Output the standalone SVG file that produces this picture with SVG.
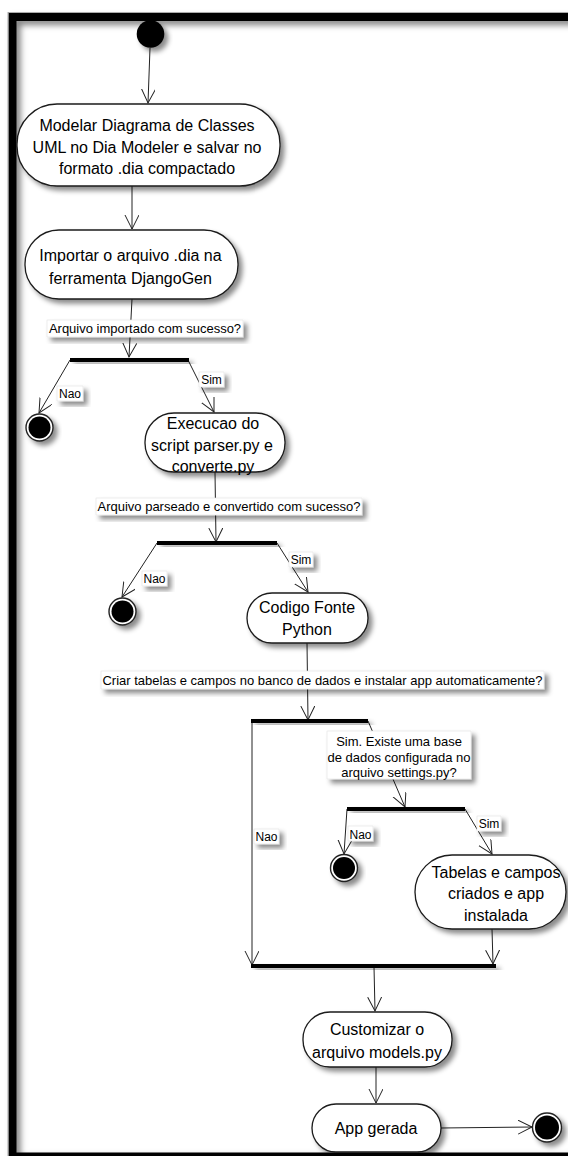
<svg xmlns="http://www.w3.org/2000/svg" width="568" height="1156" viewBox="0 0 568 1156">
  <defs>
    <filter id="sh" x="-20%" y="-20%" width="150%" height="160%">
      <feDropShadow dx="4" dy="4" stdDeviation="2.5" flood-color="#000" flood-opacity="0.45"/>
    </filter>
    <filter id="shFrame" x="-5%" y="-5%" width="110%" height="110%">
      <feDropShadow dx="4" dy="4" stdDeviation="3" flood-color="#000" flood-opacity="0.5"/>
    </filter>
    <marker id="arr" markerUnits="userSpaceOnUse" markerWidth="16" markerHeight="16" refX="14" refY="7" orient="auto">
      <path d="M0,0 L14,7 L0,14" fill="none" stroke="#222" stroke-width="1"/>
    </marker>
    <style>
      .node { fill: #fff; stroke: #1a1a1a; stroke-width: 1.3; filter: url(#sh); }
      .bar { fill: #000; filter: url(#sh); }
      .lblbox { fill: #fff; stroke: #e2e2e2; stroke-width: 0.6; filter: url(#sh); }
      .t { font-family: "Liberation Sans", Arial, sans-serif; font-size: 16px; text-anchor: middle; fill: #000; }
      .l { font-family: "Liberation Sans", Arial, sans-serif; font-size: 13px; text-anchor: middle; fill: #000; }
      .s { font-family: "Liberation Sans", Arial, sans-serif; font-size: 12px; text-anchor: middle; fill: #000; }
      .c { fill: none; stroke: #222; stroke-width: 1; marker-end: url(#arr); }
      .start { fill: #000; filter: url(#sh); }
      .endring { fill: #fff; stroke: #222; stroke-width: 1.4; filter: url(#sh); }
      .endcore { fill: #000; }
    </style>
  </defs>

  <rect width="568" height="1156" fill="#fff"/>

  <!-- swimlane frame -->
  <g id="frame">
    <rect x="12.5" y="17" width="620" height="1139.5" fill="none" stroke="#000" stroke-width="8" filter="url(#shFrame)"/>
    <rect x="8" y="12.5" width="630" height="1150" fill="none" stroke="#999" stroke-width="0.8"/>
  </g>

  <!-- connectors -->
  <g id="connectors">
    <line class="c" x1="150" y1="48" x2="148" y2="103"/>
    <line class="c" x1="132" y1="186" x2="132" y2="229"/>
    <line class="c" x1="132" y1="299" x2="129" y2="357"/>
    <line class="c" x1="70" y1="360" x2="39" y2="413"/>
    <line class="c" x1="188" y1="360" x2="214" y2="412"/>
    <line class="c" x1="215" y1="472" x2="216" y2="542"/>
    <line class="c" x1="157" y1="543" x2="122" y2="597"/>
    <line class="c" x1="277" y1="543" x2="308" y2="592"/>
    <line class="c" x1="307" y1="643" x2="308" y2="720"/>
    <line class="c" x1="252" y1="721" x2="252" y2="965"/>
    <line class="c" x1="368" y1="721" x2="405" y2="807"/>
    <line class="c" x1="347" y1="809" x2="344" y2="854"/>
    <line class="c" x1="465" y1="809" x2="492" y2="854"/>
    <line class="c" x1="492" y1="929" x2="493" y2="964"/>
    <line class="c" x1="374" y1="967" x2="375" y2="1011"/>
    <line class="c" x1="376" y1="1067" x2="376" y2="1103"/>
    <line class="c" x1="441" y1="1128" x2="532" y2="1127"/>
  </g>

  <!-- connector labels -->
  <g id="labels">
    <g id="lbl-importado">
      <rect class="lblbox" x="47" y="320" width="196" height="17"/>
      <text class="l" x="145" y="333">Arquivo importado com sucesso?</text>
    </g>
    <g id="lbl-nao1">
      <rect class="lblbox" x="57" y="386" width="26" height="15"/>
      <text class="s" x="70" y="398">Nao</text>
    </g>
    <g id="lbl-sim1">
      <rect class="lblbox" x="199" y="372" width="25" height="15"/>
      <text class="s" x="211.5" y="384">Sim</text>
    </g>
    <g id="lbl-parseado">
      <rect class="lblbox" x="96" y="498" width="266" height="17"/>
      <text class="l" x="229" y="511">Arquivo parseado e convertido com sucesso?</text>
    </g>
    <g id="lbl-nao2">
      <rect class="lblbox" x="142" y="571" width="25" height="15"/>
      <text class="s" x="154.5" y="583">Nao</text>
    </g>
    <g id="lbl-sim2">
      <rect class="lblbox" x="289" y="552" width="24" height="15"/>
      <text class="s" x="301" y="564">Sim</text>
    </g>
    <g id="lbl-criar">
      <rect class="lblbox" x="101" y="671" width="443" height="18"/>
      <text class="l" x="322.5" y="684.5">Criar tabelas e campos no banco de dados e instalar app automaticamente?</text>
    </g>
    <g id="lbl-nao3">
      <rect class="lblbox" x="254" y="829" width="25" height="15"/>
      <text class="s" x="266.5" y="841">Nao</text>
    </g>
    <g id="lbl-settings">
      <rect class="lblbox" x="327" y="731" width="144" height="48"/>
      <text class="l" x="399" y="745.5">Sim. Existe uma base</text>
      <text class="l" x="399" y="761.5">de dados configurada no</text>
      <text class="l" x="399" y="777">arquivo settings.py?</text>
    </g>
    <g id="lbl-nao4">
      <rect class="lblbox" x="348" y="826" width="25" height="15"/>
      <text class="s" x="360.5" y="838.5">Nao</text>
    </g>
    <g id="lbl-sim3">
      <rect class="lblbox" x="477" y="816" width="24" height="15"/>
      <text class="s" x="489" y="828">Sim</text>
    </g>
  </g>

  <!-- initial state -->
  <g id="start">
    <circle class="start" cx="150.5" cy="34" r="13.8"/>
  </g>

  <!-- activities -->
  <g id="modelar">
    <rect class="node" x="17" y="104" width="263" height="82" rx="40" ry="40"/>
    <text class="t" x="147" y="131">Modelar Diagrama de Classes</text>
    <text class="t" x="147" y="152.5">UML no Dia Modeler e salvar no</text>
    <text class="t" x="147" y="174">formato .dia compactado</text>
  </g>

  <g id="importar">
    <rect class="node" x="25" y="230" width="213" height="69" rx="34" ry="34"/>
    <text class="t" x="130.5" y="261">Importar o arquivo .dia na</text>
    <text class="t" x="130.5" y="284">ferramenta DjangoGen</text>
  </g>

  <g id="fork1">
    <rect class="bar" x="70" y="358" width="119" height="4"/>
  </g>

  <g id="end1">
    <circle class="endring" cx="39.5" cy="427.5" r="13.5"/>
    <circle class="endcore" cx="39.5" cy="427.5" r="11"/>
  </g>

  <g id="execucao">
    <rect class="node" x="145" y="413" width="140" height="59" rx="29" ry="29"/>
    <text class="t" x="213" y="429">Execucao do</text>
    <text class="t" x="212" y="451">script parser.py e</text>
    <text class="t" x="213" y="472">converte.py</text>
  </g>

  <g id="fork2">
    <rect class="bar" x="157" y="541" width="120" height="4"/>
  </g>

  <g id="end2">
    <circle class="endring" cx="122.5" cy="611.5" r="13.5"/>
    <circle class="endcore" cx="122.5" cy="611.5" r="11"/>
  </g>

  <g id="codigo">
    <rect class="node" x="247" y="593" width="121" height="50" rx="25" ry="25"/>
    <text class="t" x="307" y="612.5">Codigo Fonte</text>
    <text class="t" x="307" y="634.5">Python</text>
  </g>

  <g id="fork3">
    <rect class="bar" x="251" y="719" width="117" height="4"/>
  </g>

  <g id="fork4">
    <rect class="bar" x="347" y="807" width="118" height="4"/>
  </g>

  <g id="end3">
    <circle class="endring" cx="344" cy="868" r="13.5"/>
    <circle class="endcore" cx="344" cy="868" r="11"/>
  </g>

  <g id="tabelas">
    <rect class="node" x="415" y="855" width="151" height="74" rx="37" ry="37"/>
    <text class="t" x="496" y="877.5">Tabelas e campos</text>
    <text class="t" x="496" y="898.5">criados e app</text>
    <text class="t" x="496" y="920.5">instalada</text>
  </g>

  <g id="join">
    <rect class="bar" x="251" y="964" width="245" height="4"/>
  </g>

  <g id="customizar">
    <rect class="node" x="303" y="1012" width="149" height="55" rx="27" ry="27"/>
    <text class="t" x="377" y="1034.5">Customizar o</text>
    <text class="t" x="377" y="1057.5">arquivo models.py</text>
  </g>

  <g id="app">
    <rect class="node" x="312" y="1104" width="129" height="48" rx="24" ry="24"/>
    <text class="t" x="376" y="1133.5">App gerada</text>
  </g>

  <g id="end4">
    <circle class="endring" cx="547" cy="1127.5" r="14.5"/>
    <circle class="endcore" cx="547" cy="1127.5" r="12"/>
  </g>
</svg>
